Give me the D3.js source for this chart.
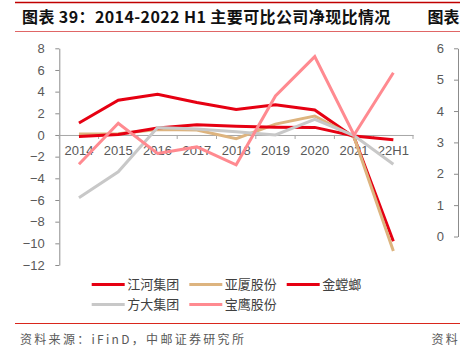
<!DOCTYPE html>
<html>
<head>
<meta charset="utf-8">
<script src="https://cdn.jsdelivr.net/npm/d3@7"></script>
<style>
  body { margin: 0; background: #fff; }
  svg { display: block; }
</style>
</head>
<body>
<div id="chart"></div>
<script>
// categories and series
var categories = ["2014", "2015", "2016", "2017", "2018", "2019", "2020", "2021", "22H1"];
var jianghe = [1.1, 3.2, 3.75, 3.0, 2.35, 2.8, 2.3, -0.2, -9.8];
var yasha = [0.1, 0.12, 0.5, 0.45, -0.35, 1.0, 1.75, -0.2, -10.7];
var jinmantis = [-0.15, 0.05, 0.65, 0.95, 0.8, 0.72, 0.7, -0.1, -0.45];
var fangda = [-5.8, -3.4, 0.68, 0.55, 0.3, 0.0, 1.45, -0.05, -2.7];
var baoying = [-2.7, 1.08, -1.7, -1.1, -2.75, 3.6, 7.23, 0, 5.75];
var leftTicks = [-12, -10, -8, -6, -4, -2, 0, 2, 4, 6, 8];
var rightTicks = [0, 1, 2, 3, 4, 5, 6];

var seriesNames = ["江河集团", "亚厦股份", "金螳螂", "方大集团", "宝鹰股份"];
var seriesValues = [jianghe, yasha, jinmantis, fangda, baoying];
var seriesColors = ["#e60012", "#ddb47f", "#e60012", "#c8c8c8", "#ff8a90"];

var svgWidth = 460;
var svgHeight = 352;

var svg = d3.select("#chart")
  .append("svg")
  .attr("width", svgWidth)
  .attr("height", svgHeight);

var cjk = "'Noto Sans CJK SC', 'Noto Sans', sans-serif";
var num = "'Liberation Sans', Arial, sans-serif";

// header rules + title
svg.append("line").attr("x1", 15).attr("x2", 460).attr("y1", 2.5).attr("y2", 2.5)
  .attr("stroke", "#c00000").attr("stroke-width", 1.5);
svg.append("line").attr("x1", 15).attr("x2", 460).attr("y1", 31.5).attr("y2", 31.5)
  .attr("stroke", "#e06666").attr("stroke-width", 1);
svg.append("text")
  .attr("x", 22).attr("y", 23)
  .attr("font-family", cjk).attr("font-size", 16).attr("font-weight", "bold")
  .attr("letter-spacing", 0.4)
  .attr("fill", "#111")
  .text("图表 39：2014-2022 H1 主要可比公司净现比情况");
svg.append("text")
  .attr("x", 427.5).attr("y", 23)
  .attr("font-family", cjk).attr("font-size", 16).attr("font-weight", "bold")
  .attr("fill", "#111")
  .text("图表");

// scales
var x = d3.scaleBand().domain(categories).range([59.3, 413]);
var y = d3.scaleLinear().domain([-12, 8]).range([265, 48.3]);
var yRight = d3.scaleLinear().domain([0, 6]).range([236.5, 48.3]);

// left axis
var leftAxis = svg.append("g")
  .attr("transform", "translate(59.3,0)")
  .call(d3.axisLeft(y).tickValues(leftTicks).tickSize(4).tickSizeOuter(0).tickPadding(10.5));
leftAxis.selectAll("text").attr("font-family", num).attr("font-size", 13).attr("fill", "#595959");
leftAxis.selectAll("line, path").attr("stroke", "#8c8c8c");

// right axis (neighbouring chart)
var rightAxis = svg.append("g")
  .attr("transform", "translate(458,0)")
  .call(d3.axisLeft(yRight).tickValues(rightTicks).tickFormat(d3.format("d"))
    .tickSize(4).tickSizeOuter(0).tickPadding(10));
rightAxis.selectAll("text").attr("font-family", num).attr("font-size", 13).attr("fill", "#595959");
rightAxis.selectAll("line, path").attr("stroke", "#8c8c8c");

// x axis at zero
var xAxis = svg.append("g")
  .attr("transform", `translate(0, ${y(0)})`)
  .call(d3.axisBottom(x).tickSize(0).tickSizeOuter(0).tickPadding(10.5));
xAxis.selectAll("text").attr("font-family", num).attr("font-size", 13).attr("fill", "#595959");
xAxis.select("path").attr("stroke", "#a6a6a6");
xAxis.selectAll(".boundary")
  .data(d3.range(categories.length + 1))
  .enter()
  .append("line")
  .attr("class", "boundary")
  .attr("x1", i => x.range()[0] + i * x.step())
  .attr("x2", i => x.range()[0] + i * x.step())
  .attr("y1", 0).attr("y2", 4)
  .attr("stroke", "#a6a6a6");

// lines
var line = d3.line()
  .x((d, i) => x(categories[i]) + x.bandwidth() / 2)
  .y(d => y(d));

seriesValues.forEach(function(vals, k) {
  svg.append("path")
    .datum(vals)
    .attr("d", line)
    .attr("fill", "none")
    .attr("stroke", seriesColors[k])
    .attr("stroke-width", 3)
    .attr("stroke-linejoin", "miter");
});

// legend
var legendPos = [[91.7, 284.5], [189.3, 284.5], [286.7, 284.5], [91.7, 304.5], [189.3, 304.5]];
seriesNames.forEach(function(name, k) {
  var g = svg.append("g").attr("transform", `translate(${legendPos[k][0]}, ${legendPos[k][1]})`);
  g.append("line").attr("x1", 0).attr("x2", 33).attr("y1", 0).attr("y2", 0)
    .attr("stroke", seriesColors[k]).attr("stroke-width", 3);
  g.append("text").attr("x", 35.5).attr("y", 4.6)
    .attr("font-family", cjk).attr("font-size", 13).attr("fill", "#404040")
    .text(name);
});

// footer
svg.append("line").attr("x1", 15).attr("x2", 460).attr("y1", 323.5).attr("y2", 323.5)
  .attr("stroke", "#d9261c").attr("stroke-width", 1);
svg.append("text")
  .attr("x", 20).attr("y", 344)
  .attr("font-family", cjk).attr("font-size", 12).attr("fill", "#595959")
  .attr("letter-spacing", 2.3)
  .text("资料来源：iFinD，中邮证券研究所");
svg.append("text")
  .attr("x", 431.5).attr("y", 344)
  .attr("font-family", cjk).attr("font-size", 12).attr("fill", "#595959")
  .attr("letter-spacing", 2.3)
  .text("资料");
</script>
</body>
</html>
